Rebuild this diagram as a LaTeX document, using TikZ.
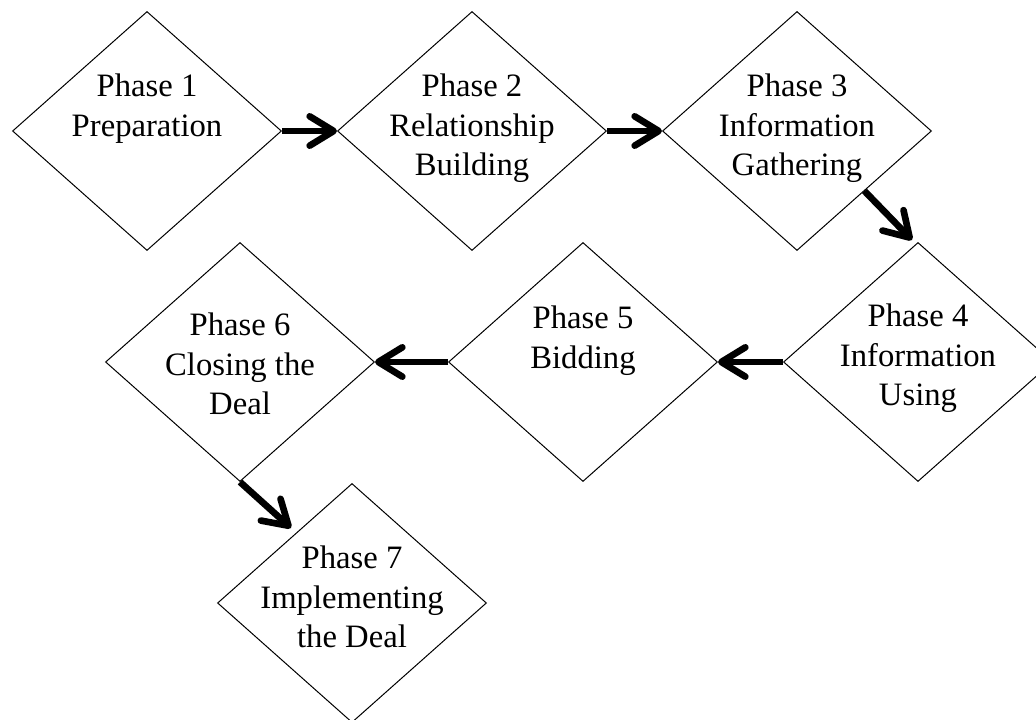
\documentclass[tikz,border=0pt]{standalone}
\usepackage{fontspec}
\setmainfont{Liberation Serif}
\usetikzlibrary{shapes.geometric,arrows.meta}
\begin{document}
\begin{tikzpicture}[x=0.75pt,y=-0.75pt,
  phase/.style={draw, line width=0.75pt, shape=diamond,
    minimum width=201.75pt, minimum height=179.25pt, inner sep=0pt},
  phasetext/.style={anchor=north, align=center, inner sep=0pt,
    font=\fontsize{24.5}{29.5}\selectfont},
  flow/.style={line width=5pt, -{Straight Barb[length=18pt,width=22pt,round]}},
]
\useasboundingbox (0,0) rectangle (1036,720);
\clip (0,0) rectangle (1036,720);

% the seven phases
\node[phase] (d1) at (147,131) {};
\node[phase] (d2) at (472,131) {};
\node[phase] (d3) at (797,131) {};
\node[phase] (d4) at (918,362) {};
\node[phase] (d5) at (583,362) {};
\node[phase] (d6) at (240,362) {};
\node[phase] (d7) at (352,603) {};

\node[phasetext] (t1) at (147,74)  {Phase 1\\Preparation};
\node[phasetext] (t2) at (472,74)  {Phase 2\\Relationship\\Building};
\node[phasetext] (t3) at (797,74)  {Phase 3\\Information\\Gathering};
\node[phasetext] (t4) at (918,304) {Phase 4\\Information\\Using};
\node[phasetext] (t5) at (583,306) {Phase 5\\Bidding};
\node[phasetext] (t6) at (240,313) {Phase 6\\Closing the\\Deal};
\node[phasetext] (t7) at (352,546) {Phase 7\\Implementing\\the Deal};

% arrow ends that stop short of a diamond
\coordinate (e3) at (912,240);
\coordinate (e6) at (291,528);

% flow between phases
\draw[flow] (d1.east) -- (d2.west);
\draw[flow] (d2.east) -- (d3.west);
\draw[flow] (d3.south east) -- (e3);
\draw[flow] (d4.west) -- (d5.east);
\draw[flow] (d5.west) -- (d6.east);
\draw[flow] (d6.south) -- (e6);
\end{tikzpicture}
\end{document}
